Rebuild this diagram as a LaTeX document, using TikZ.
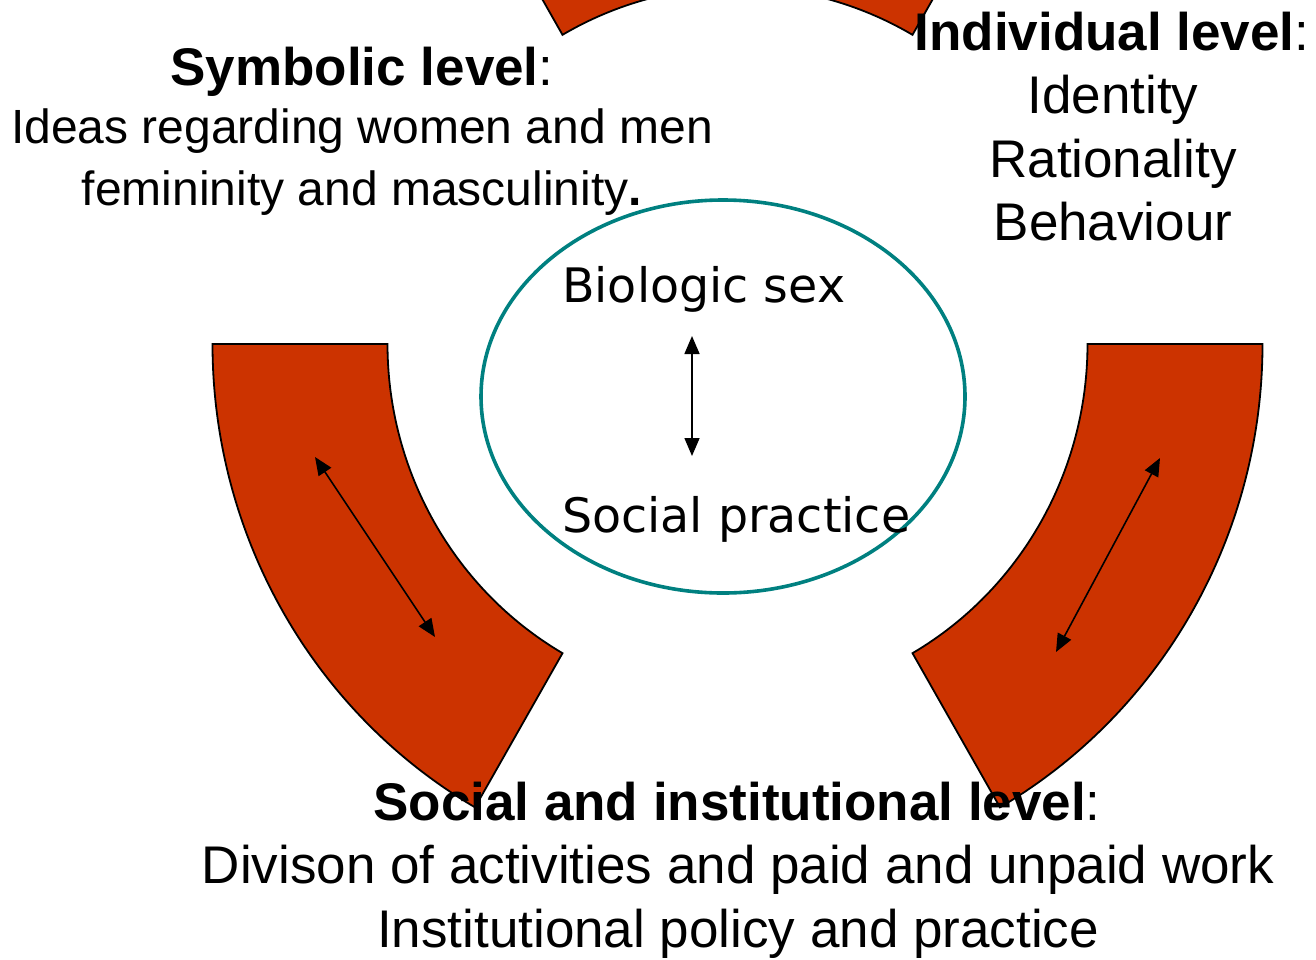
\documentclass[tikz,border=0pt]{standalone}
\usepackage{fontspec}
\setmainfont{Liberation Sans}
\newfontfamily\ovalfont{DejaVu Sans}
\usetikzlibrary{arrows.meta}
\definecolor{BandClr}{rgb}{0.8,0.2,0}
\definecolor{OvalClr}{rgb}{0,0.5,0.5}

\tikzset{
  band/.style={fill=BandClr,draw=black,line width=1.8pt},
  twoway/.style={line width=1.6pt,{Triangle[length=18pt,width=15pt]}-{Triangle[length=18pt,width=15pt]}},
  lvl/.style={anchor=base,inner sep=0pt,font=\fontsize{53}{60}\selectfont},
  lvlsmall/.style={anchor=base,inner sep=0pt,font=\fontsize{48}{56}\selectfont},
  ovaltext/.style={anchor=base west,inner sep=0pt,font=\ovalfont\fontsize{47.5}{54}\selectfont}
}

\begin{document}
\begin{tikzpicture}[x=1pt,y=-1pt]
\useasboundingbox (0,0) rectangle (1316,959);

\coordinate (C) at (737.5,344);

% the three bands of the ring
\foreach \a in {0,120,240}
  \draw[band] (C) ++(\a:350 and 357) arc[start angle=\a,end angle=\a+60,x radius=350,y radius=357]
    -- ++(\a+60:175 and 178) arc[start angle=\a+60,end angle=\a,x radius=525,y radius=535] -- cycle;

% arrows across the side bands
\coordinate (L1) at (315,457);
\coordinate (L2) at (435,637);
\coordinate (R1) at (1160,458);
\coordinate (R2) at (1056,652);
\draw[twoway] (L1) -- (L2);
\draw[twoway] (R1) -- (R2);

% core
\draw[OvalClr,line width=3.6pt] (723,396.5) ellipse [x radius=242,y radius=196.5];
\node[ovaltext] (bio) at (562,302) {Biologic sex};
\node[ovaltext] (soc) at (562,532) {Social practice};
\coordinate (O1) at (692,336);
\coordinate (O2) at (692,456);
\draw[twoway] (O1) -- (O2);

% symbolic level
\node[lvl] (sym) at (362,85) {\textbf{Symbolic level}:};
\node[lvlsmall] (sym1) at (362,143) {Ideas regarding women and men};
\node[lvlsmall] (sym2) at (362,205) {femininity and masculinity\textbf{.}};

% individual level
\node[lvl] (ind) at (1112,50) {\textbf{Individual level}:};
\node[lvl] (ind1) at (1113,113) {Identity};
\node[lvl] (ind2) at (1113,177) {Rationality};
\node[lvl] (ind3) at (1113,240) {Behaviour};

% social and institutional level
\node[lvl] (ins) at (737,820) {\textbf{Social and institutional level}:};
\node[lvl] (ins1) at (738,883) {Divison of activities and paid and unpaid work};
\node[lvl] (ins2) at (738,947) {Institutional policy and practice};

\end{tikzpicture}
\end{document}
